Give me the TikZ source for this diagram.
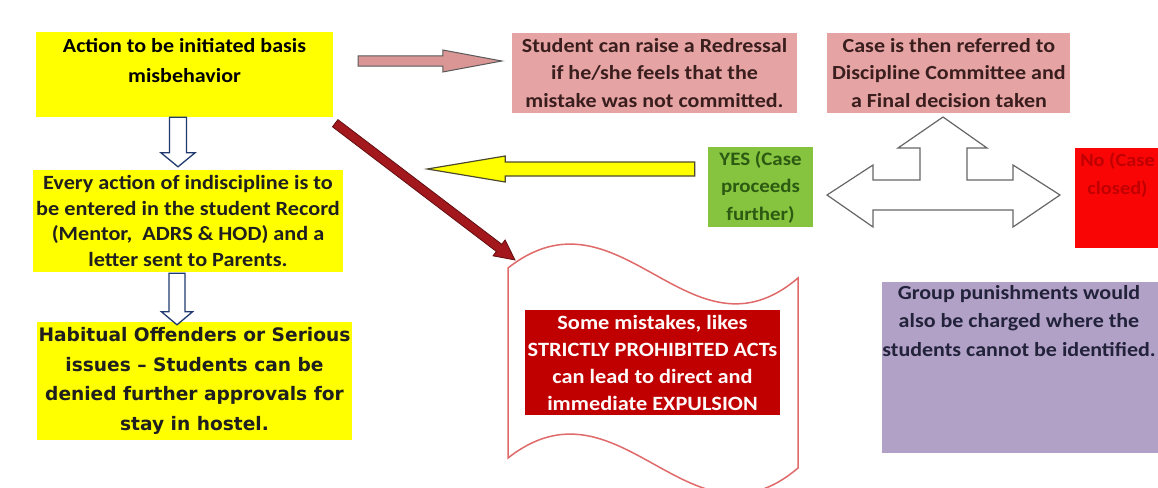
\documentclass[tikz,border=0pt]{standalone}
\usepackage{fontspec}
\setmainfont{Carlito}[FakeStretch=1.1]
\newfontfamily\widefont{DejaVu Sans}
\usetikzlibrary{positioning,calc}

\definecolor{hiyellow}{HTML}{FFFF00}
\definecolor{pinkfill}{HTML}{E5A3A3}
\definecolor{rosearrow}{HTML}{D99694}
\definecolor{browntext}{HTML}{3A1E1E}
\definecolor{leafgreen}{HTML}{86C440}
\definecolor{darkleaf}{HTML}{2D5A12}
\definecolor{alarmred}{HTML}{FA0505}
\definecolor{deepred}{HTML}{C00000}
\definecolor{lavender}{HTML}{B2A1C7}
\definecolor{navytext}{HTML}{22223A}
\definecolor{flagline}{HTML}{E06A6A}
\definecolor{maroon}{HTML}{A3181C}
\definecolor{navyline}{HTML}{1F3A6E}

% fat arrow from #2 to #3: shaft half width, head length, head half width
\newcommand{\blockarrow}[6][]{%
  \draw[#1] let \p1=(#2), \p2=(#3),
      \n1={atan2(\y2-\y1,\x2-\x1)}, \n2={veclen(\x2-\x1,\y2-\y1)} in
    [shift={(\p1)},rotate=\n1]
    (0,-#4) -- (\n2-#5,-#4) -- (\n2-#5,-#6) -- (\n2,0)
    -- (\n2-#5,#6) -- (\n2-#5,#4) -- (0,#4) -- cycle;}

\begin{document}
\begin{tikzpicture}[x=1pt,y=-1pt,font=\bfseries\fontsize{20}{27.5}\selectfont]
  \tikzstyle{box}=[rectangle,inner sep=0pt,align=center]
  \tikzstyle{txt}=[inner sep=0pt,align=center]
  \tikzstyle{yellowbox}=[box,fill=hiyellow,text=black!88]
  \tikzstyle{pinkbox}=[box,fill=pinkfill,text=browntext]
  \tikzstyle{pinkarr}=[fill=rosearrow,draw=black!65,line width=1pt]
  \tikzstyle{yellowarr}=[fill=hiyellow,draw=olive!40!black,line width=1.2pt]
  \tikzstyle{redarr}=[fill=maroon,draw=maroon!60!black,line width=0.8pt]
  \tikzstyle{hollowarr}=[fill=white,draw=navyline,line width=1.3pt]
  \useasboundingbox (0,0) rectangle (1158,487);
  \clip (0,0) rectangle (1158,487);
  \fill[white] (0,0) rectangle (1158,487);

  % left column
  \node[yellowbox,minimum width=297pt,minimum height=85pt] (act) at (184.5,74.5) {};
  \node[txt,anchor=north,font=\bfseries\fontsize{20}{30}\selectfont] (acttext) at ([yshift=-6pt]act.north) {Action to be initiated basis\\misbehavior};
  \node[yellowbox,minimum width=310pt,minimum height=102pt,font=\bfseries\fontsize{20.2}{25.5}\selectfont] (record) at (188,221) {Every action of indiscipline is to\\be entered in the student Record\\(Mentor,\ \ ADRS \& HOD) and a\\letter sent to Parents.};
  \node[yellowbox,minimum width=315pt,minimum height=118pt,font=\widefont\bfseries\fontsize{18.6}{29.5}\selectfont] (habit) at (194.5,381) {Habitual Offenders or Serious\\issues – Students can be\\denied further approvals for\\stay in hostel.};

  % top row
  \node[pinkbox,minimum width=285pt,minimum height=80pt] (redress) at (654.5,73) {Student can raise a Redressal\\if he/she feels that the\\mistake was not committed.};
  \node[pinkbox,minimum width=243pt,minimum height=80pt,right=30pt of redress] (refer) {Case is then referred to\\Discipline Committee and\\a Final decision taken};

  % decision
  \node[box,fill=leafgreen,text=darkleaf,minimum width=105pt,minimum height=80pt,font=\bfseries\fontsize{19}{27.5}\selectfont] (yes) at (760.5,187) {YES (Case\\proceeds\\further)};
  \node[box,fill=alarmred,minimum width=87pt,minimum height=100pt] (no) at (1118.5,198) {};
  \node[txt,anchor=north,text=deepred,font=\bfseries\fontsize{18.5}{28}\selectfont] (notext) at ([yshift=-5pt,xshift=-1pt]no.north) {No (Case\\closed)};
  \node[box,fill=lavender,minimum width=276pt,minimum height=171pt] (group) at (1020,367.5) {};
  \node[txt,anchor=north,text=navytext,font=\bfseries\fontsize{20}{28.5}\selectfont] (grouptext) at ([yshift=-3pt,xshift=-1pt]group.north) {Group punishments would\\also be charged where the\\students cannot be identified.};

  % expulsion flag
  \coordinate (flagtl) at (508,268);
  \coordinate (expel) at (515,260);
  \draw[flagline,line width=1.5pt,fill=white] (flagtl) .. controls (620,180) and (690,370) .. (798,278) -- (798,468) .. controls (690,560) and (620,370) .. (508,458) -- cycle;
  \node[box,fill=deepred,text=white!90!pink,minimum width=255pt,minimum height=105pt,font=\bfseries\fontsize{20.3}{27}\selectfont] (expulsion) at (652.5,362.5) {Some mistakes, likes\\STRICTLY PROHIBITED ACTs\\can lead to direct and\\immediate EXPULSION};

  % arrows
  \blockarrow[pinkarr]{[xshift=25pt,yshift=13.5pt]act.east}{[xshift=-10pt,yshift=12pt]redress.west}{5}{59}{11}
  \blockarrow[yellowarr]{[xshift=-13pt,yshift=18pt]yes.west}{[xshift=84pt,yshift=52pt]record.east}{7}{78}{13}
  \blockarrow[redarr]{[xshift=2pt,yshift=-6pt]act.south east}{expel}{4.5}{20}{10}
  \blockarrow[hollowarr]{[xshift=-6.5pt]act.south}{[xshift=-10pt,yshift=3pt]record.north}{8.5}{14}{17}
  \blockarrow[hollowarr]{[xshift=-11pt,yshift=-1pt]record.south}{[xshift=-17.5pt,yshift=-3pt]habit.north}{8}{13}{15.5}

  \coordinate (split) at (943,195);
  \draw[fill=white,draw=black!60,line width=1.2pt,shift={(split)}] (-116,0) -- (-70,-30) -- (-70,-15) -- (-23,-15) -- (-23,-47) -- (-45,-47) -- (0,-78) -- (44,-47) -- (24,-47) -- (24,-15) -- (70,-15) -- (70,-30) -- (117,0) -- (70,32) -- (70,15) -- (-70,15) -- (-70,32) -- cycle;
\end{tikzpicture}
\end{document}
